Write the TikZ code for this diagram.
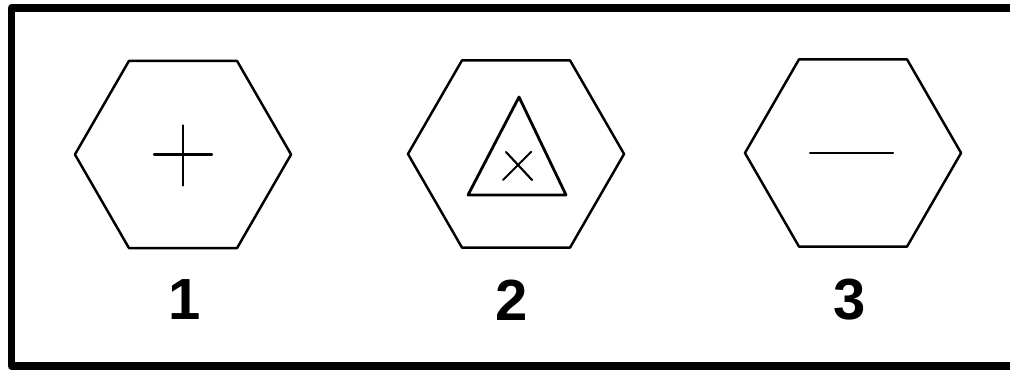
\documentclass[tikz,border=0pt]{standalone}
\usepackage{fontspec}
\setmainfont{Liberation Sans}
\usetikzlibrary{shapes.geometric}
\begin{document}
\begin{tikzpicture}[x=0.01cm, y=-0.01cm, line join=round, line cap=round,
		hexa/.style={draw, regular polygon, regular polygon sides=6, minimum size=2.16cm, inner sep=0pt, outer sep=0pt, line width=0.7pt},
		symline/.style={line width=0.6pt},
		num/.style={font=\bfseries\fontsize{16.5}{16.5}\selectfont, inner sep=0pt}]
	\useasboundingbox (0,0) rectangle (1010,371);
	\draw[line width=2.2pt, line cap=butt] (1020,8) -- (11.5,8) -- (11.5,366) -- (1020,366);
	\node[hexa] (h1) at (183,154.5) {};
	\node[hexa] (h2) at (516,154) {};
	\node[hexa] (h3) at (853,153) {};
	\draw[symline] ([shift={(-29,0)}]h1.center) -- ([shift={(29,0)}]h1.center);
	\draw[symline] ([shift={(0,-29)}]h1.center) -- ([shift={(0,31)}]h1.center);
	\coordinate (A) at ([shift={(3,-57)}]h2.center);
	\coordinate (B) at ([shift={(-48,41)}]h2.center);
	\coordinate (C) at ([shift={(50,41)}]h2.center);
	\draw[line width=0.8pt] (A) -- (B) -- (C) -- cycle;
	\coordinate (X) at ([shift={(1,12)}]h2.center);
	\draw[symline] ([shift={(-14,14)}]X) -- ([shift={(14,-14)}]X);
	\draw[symline] ([shift={(-11,-14)}]X) -- ([shift={(15,14)}]X);
	\draw[symline] ([shift={(-43,0)}]h3.center) -- ([shift={(40,0)}]h3.center);
	\node[num] (n1) at (185,300) {1};
	\node[num] (n2) at (512,300) {2};
	\node[num] (n3) at (850,300) {3};
\end{tikzpicture}
\end{document}
